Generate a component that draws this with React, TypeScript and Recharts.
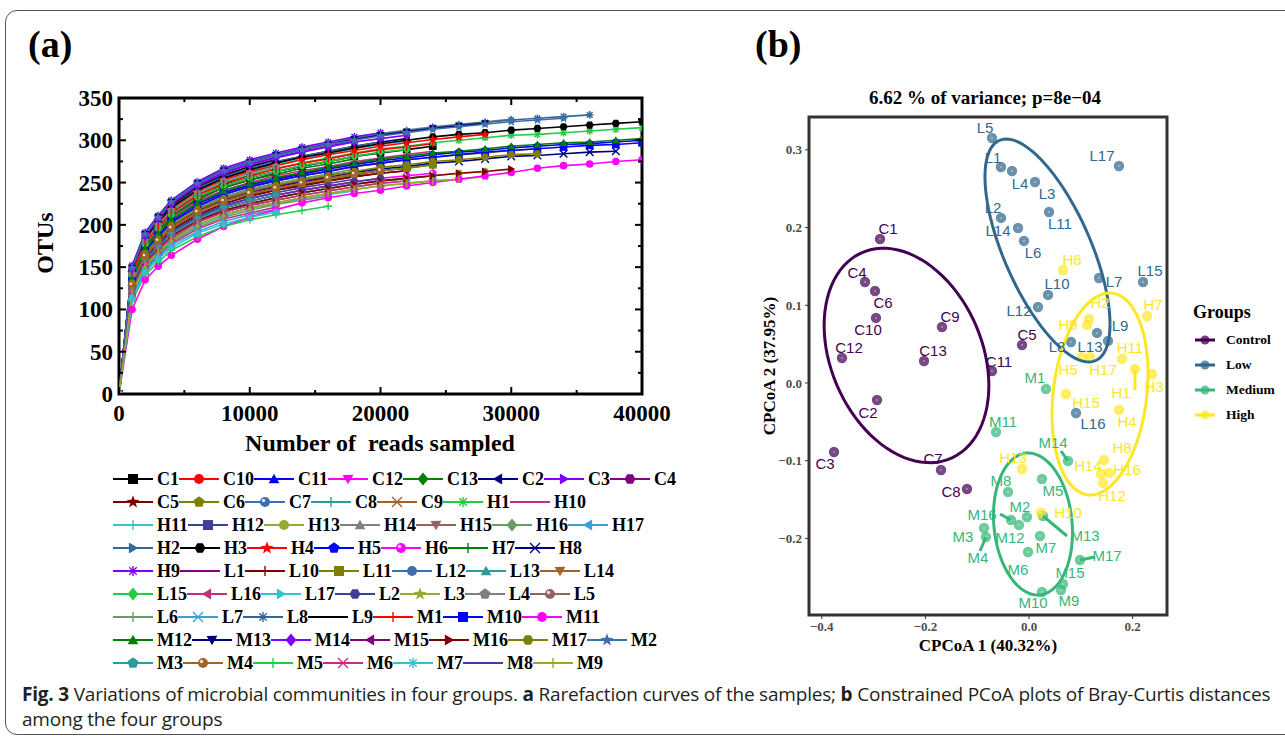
import React from 'react';
import { LineChart, Line, XAxis, YAxis, ReferenceArea, ScatterChart, Scatter } from 'recharts';

// ---------- panel (a): rarefaction curves ----------
const READS = [0, 1000, 2000, 3000, 4000, 6000, 8000, 10000, 12000, 14000, 16000, 18000, 20000, 22000, 24000, 26000, 28000, 30000, 32000, 34000, 36000, 38000, 40000];
const X_TICKS_A = [0, 5000, 10000, 15000, 20000, 25000, 30000, 35000, 40000];
const Y_TICKS_A = [0, 25, 50, 75, 100, 125, 150, 175, 200, 225, 250, 275, 300, 325, 350];

const otuC1 = [0, 139, 177, 196, 212, 232, 247, 256, 263, 269, 275, 281, 285, 289, 293];
const otuC10 = [0, 136, 171, 189, 206, 225, 238, 248, 255, 261, 267, 272, 276];
const otuC11 = [0, 131, 167, 185, 200, 220, 233, 242, 249];
const otuC12 = [0, 124, 158, 175, 189, 207, 220, 228, 235, 241, 246, 250];
const otuC13 = [0, 129, 164, 181, 196, 215, 228, 236, 243, 249, 255, 259, 264, 267, 271];
const otuC2 = [0, 146, 185, 204, 221, 242, 257, 267, 274, 281, 287, 293, 298, 302];
const otuC3 = [0, 148, 188, 208, 226, 247, 262, 272, 280, 287, 293, 299];
const otuC4 = [0, 138, 174, 193, 210, 230, 244, 253, 261];
const otuC5 = [0, 127, 162, 179, 194, 212, 225, 234, 241, 247, 252, 257, 261, 264];
const otuC6 = [0, 133, 169, 187, 203, 222, 236, 245, 252, 258, 264, 269, 273, 277, 280, 283, 285, 288, 290];
const otuC7 = [0, 126, 159, 176, 192, 210, 222, 231, 238];
const otuC8 = [0, 122, 156, 172, 187, 205, 217, 225, 232, 238, 243, 248, 252];
const otuC9 = [0, 130, 165, 183, 198, 217, 231, 239, 246, 252, 257];
const otuH1 = [0, 141, 179, 198, 215, 236, 250, 259, 267, 273, 279, 285, 290, 293, 297, 300, 303, 306, 307, 309, 311, 313, 315];
const otuH10 = [0, 136, 173, 191, 208, 228, 241, 250, 258, 264, 269, 275, 279, 283, 287];
const otuH11 = [0, 144, 183, 202, 219, 240, 254, 264, 271, 278, 284, 290, 295, 299];
const otuH12 = [0, 119, 152, 168, 183, 200, 212, 220, 226];
const otuH13 = [0, 123, 156, 172, 187, 205, 217, 225, 232, 238, 243, 248, 252, 255, 258, 261, 263];
const otuH14 = [0, 150, 191, 211, 229, 251, 266, 276, 284, 291, 297, 303, 308, 312, 316, 319, 322, 325];
const otuH15 = [0, 131, 166, 183, 198, 218, 230, 239, 246, 252, 258, 263, 267];
const otuH16 = [0, 132, 167, 185, 200, 220, 233, 242, 249, 255, 260, 266];
const otuH17 = [0, 135, 171, 189, 205, 225, 238, 248, 255];
const otuH2 = [0, 145, 184, 204, 221, 243, 257, 267, 275, 281, 287, 293, 298];
const otuH3 = [0, 145, 183, 202, 220, 241, 255, 265, 273, 280, 285, 291, 296, 300, 304, 307, 309, 312, 314, 316, 318, 320, 322];
const otuH4 = [0, 143, 181, 200, 218, 239, 253, 263, 270, 277, 283, 288, 293, 297, 301, 304, 307];
const otuH5 = [0, 135, 171, 189, 205, 225, 238, 247, 254, 260, 266, 271, 276, 279, 283, 286, 288, 291, 293, 295, 296, 298, 300];
const otuH6 = [0, 124, 158, 174, 189, 207, 220, 228, 235, 241, 246, 251, 255, 258, 261];
const otuH7 = [0, 138, 175, 193, 210, 230, 244, 253, 260, 267, 272, 278];
const otuH8 = [0, 130, 165, 182, 197, 216, 229, 238, 245, 251, 256, 262, 266, 269, 273, 275, 278, 281, 282, 284, 286, 287];
const otuH9 = [0, 152, 191, 211, 229, 251, 267, 277, 285, 292, 298, 304, 309];
const otuL1 = [0, 140, 177, 195, 212, 232, 246, 256, 263, 270, 275, 281];
const otuL10 = [0, 128, 161, 179, 194, 212, 225, 234, 241, 246, 252, 257, 261, 264];
const otuL11 = [0, 129, 163, 181, 196, 215, 228, 237, 243, 249, 254, 260, 264, 267, 271];
const otuL12 = [0, 126, 160, 176, 191, 210, 222, 231, 238];
const otuL13 = [0, 123, 156, 172, 187, 205, 217, 225, 232, 238, 243, 248, 252, 255, 258];
const otuL14 = [0, 121, 154, 170, 185, 203, 215, 223, 229, 235, 240, 245, 249];
const otuL15 = [0, 140, 177, 196, 212, 233, 246, 256, 263, 270, 275, 281, 286, 289];
const otuL16 = [0, 116, 148, 164, 178, 195, 207, 214, 221];
const otuL17 = [0, 118, 151, 167, 181, 199, 211, 219, 225, 231, 236, 240];
const otuL2 = [0, 125, 158, 174, 189, 208, 220, 228, 235, 241, 246, 251, 255];
const otuL3 = [0, 120, 152, 168, 182, 200, 212, 220, 226, 232, 237, 242, 246, 249, 252, 254, 257];
const otuL4 = [0, 142, 181, 200, 217, 238, 252, 261, 269];
const otuL5 = [0, 134, 169, 187, 203, 222, 236, 245, 252, 258, 263, 269, 273, 277];
const otuL6 = [0, 118, 150, 166, 180, 197, 209, 217, 224, 229, 234];
const otuL7 = [0, 115, 146, 162, 176, 192, 204, 212, 218];
const otuL8 = [0, 150, 190, 210, 228, 250, 265, 275, 283, 290, 296, 302, 307, 311, 315, 318, 321, 324, 326, 328, 330];
const otuL9 = [0, 147, 186, 206, 223, 245, 259, 269, 277];
const otuM1 = [0, 141, 179, 197, 214, 235, 249, 258, 266, 273, 278, 284, 289, 292, 296];
const otuM10 = [0, 133, 169, 187, 203, 222, 236, 245, 252, 258, 263, 269, 273, 277, 280, 283, 286, 288, 290, 292, 294, 295, 297];
const otuM11 = [0, 100, 135, 151, 164, 183, 198, 209, 218, 226, 232, 237, 241, 246, 250, 254, 258, 262, 267, 270, 272, 275, 277];
const otuM12 = [0, 136, 172, 190, 206, 226, 240, 249, 256, 262, 268, 273, 278, 281, 285, 287, 290, 293, 295, 297, 298, 300, 302];
const otuM13 = [0, 149, 189, 209, 227, 249, 264, 274, 282, 289, 295, 301, 306, 310, 314, 317, 320];
const otuM14 = [0, 148, 187, 207, 225, 246, 261, 271, 279, 286, 292, 298, 302, 306];
const otuM15 = [0, 131, 165, 183, 198, 217, 231, 239, 246, 252, 258, 263];
const otuM16 = [0, 123, 156, 172, 187, 205, 217, 225, 232, 238, 243, 248, 252, 255, 258, 261, 263, 266];
const otuM17 = [0, 131, 166, 183, 199, 218, 231, 240, 247, 253, 258, 263, 268, 271, 275, 277, 280, 283, 284];
const otuM2 = [0, 149, 189, 209, 227, 249, 264, 274, 282, 289, 295, 300, 305, 309, 313, 316, 319, 322, 324, 326];
const otuM3 = [0, 124, 158, 174, 189, 207, 220, 228, 235];
const otuM4 = [0, 129, 163, 181, 196, 215, 228, 237, 243, 249, 255, 260, 264];
const otuM5 = [0, 110, 141, 156, 170, 186, 198, 206, 212, 217, 222];
const otuM6 = [0, 121, 154, 170, 185, 203, 215, 223, 229, 235, 240, 245, 249, 252];
const otuM7 = [0, 113, 144, 160, 173, 190, 201, 209, 215];
const otuM8 = [0, 126, 160, 176, 192, 210, 223, 231, 238, 244, 249, 254];
const otuM9 = [0, 120, 152, 168, 182, 200, 212, 220, 226, 232, 237, 242, 246, 249, 252, 254];

// legend / plotting order
const SERIES: [string, number[]][] = [
  ['C1', otuC1], ['C10', otuC10], ['C11', otuC11], ['C12', otuC12], ['C13', otuC13], ['C2', otuC2], ['C3', otuC3], ['C4', otuC4],
  ['C5', otuC5], ['C6', otuC6], ['C7', otuC7], ['C8', otuC8], ['C9', otuC9], ['H1', otuH1], ['H10', otuH10],
  ['H11', otuH11], ['H12', otuH12], ['H13', otuH13], ['H14', otuH14], ['H15', otuH15], ['H16', otuH16], ['H17', otuH17],
  ['H2', otuH2], ['H3', otuH3], ['H4', otuH4], ['H5', otuH5], ['H6', otuH6], ['H7', otuH7], ['H8', otuH8],
  ['H9', otuH9], ['L1', otuL1], ['L10', otuL10], ['L11', otuL11], ['L12', otuL12], ['L13', otuL13], ['L14', otuL14],
  ['L15', otuL15], ['L16', otuL16], ['L17', otuL17], ['L2', otuL2], ['L3', otuL3], ['L4', otuL4], ['L5', otuL5],
  ['L6', otuL6], ['L7', otuL7], ['L8', otuL8], ['L9', otuL9], ['M1', otuM1], ['M10', otuM10], ['M11', otuM11],
  ['M12', otuM12], ['M13', otuM13], ['M14', otuM14], ['M15', otuM15], ['M16', otuM16], ['M17', otuM17], ['M2', otuM2],
  ['M3', otuM3], ['M4', otuM4], ['M5', otuM5], ['M6', otuM6], ['M7', otuM7], ['M8', otuM8], ['M9', otuM9],
];
const LEGEND_ROW_SIZES = [8, 7, 7, 7, 7, 7, 7, 7, 7];

// ---------- panel (b): CPCoA ----------
const CONTROL_POINTS = [
  { name: 'C1', x: -0.2876, y: 0.1853 }, { name: 'C4', x: -0.3166, y: 0.13 }, { name: 'C6', x: -0.2973, y: 0.1184 },
  { name: 'C10', x: -0.2954, y: 0.0837 }, { name: 'C9', x: -0.168, y: 0.0721 }, { name: 'C12', x: -0.361, y: 0.0322 },
  { name: 'C13', x: -0.2027, y: 0.0283 }, { name: 'C11', x: -0.0714, y: 0.0154 }, { name: 'C5', x: -0.0135, y: 0.0489 },
  { name: 'C2', x: -0.2934, y: -0.0219 }, { name: 'C3', x: -0.3764, y: -0.0888 }, { name: 'C7', x: -0.1699, y: -0.112 },
  { name: 'C8', x: -0.1197, y: -0.1364 },
];
const LOW_POINTS = [
  { name: 'L5', x: -0.0714, y: 0.3153 }, { name: 'L1', x: -0.0541, y: 0.278 }, { name: 'L4', x: -0.0328, y: 0.2728 },
  { name: 'L3', x: 0.0116, y: 0.2587 }, { name: 'L11', x: 0.0386, y: 0.2201 }, { name: 'L17', x: 0.1737, y: 0.2793 },
  { name: 'L2', x: -0.0541, y: 0.2124 }, { name: 'L14', x: -0.0212, y: 0.1995 }, { name: 'L6', x: -0.0097, y: 0.1828 },
  { name: 'L10', x: 0.0367, y: 0.1133 }, { name: 'L12', x: 0.0174, y: 0.0978 }, { name: 'L7', x: 0.1351, y: 0.1351 },
  { name: 'L15', x: 0.2201, y: 0.13 }, { name: 'L9', x: 0.1313, y: 0.0644 }, { name: 'L13', x: 0.1525, y: 0.0541 },
  { name: 'L8', x: 0.0811, y: 0.0528 }, { name: 'L16', x: 0.0907, y: -0.0386 },
];
const MEDIUM_POINTS = [
  { name: 'M1', x: 0.0328, y: -0.0077 }, { name: 'M11', x: -0.0637, y: -0.0631 }, { name: 'M14', x: 0.0753, y: -0.1004 },
  { name: 'M8', x: -0.0405, y: -0.1403 }, { name: 'M5', x: 0.0251, y: -0.1236 }, { name: 'M2', x: -0.0039, y: -0.1725 },
  { name: 'M13', x: 0.027, y: -0.1712 }, { name: 'M16', x: -0.0347, y: -0.1763 }, { name: 'M12', x: -0.0193, y: -0.1828 },
  { name: 'M3', x: -0.0869, y: -0.1866 }, { name: 'M4', x: -0.083, y: -0.1982 }, { name: 'M7', x: 0.0212, y: -0.1969 },
  { name: 'M6', x: -0.0019, y: -0.2175 }, { name: 'M17', x: 0.0985, y: -0.2278 }, { name: 'M15', x: 0.0656, y: -0.2587 },
  { name: 'M9', x: 0.0618, y: -0.2664 }, { name: 'M10', x: 0.0251, y: -0.269 },
];
const HIGH_POINTS = [
  { name: 'H6', x: 0.0656, y: 0.1454 }, { name: 'H2', x: 0.1158, y: 0.0824 }, { name: 'H9', x: 0.112, y: 0.0746 },
  { name: 'H7', x: 0.2278, y: 0.0862 }, { name: 'H11', x: 0.1795, y: 0.0309 }, { name: 'H5', x: 0.1023, y: 0.0335 },
  { name: 'H17', x: 0.1178, y: 0.0335 }, { name: 'H3', x: 0.2375, y: 0.0116 }, { name: 'H1', x: 0.2046, y: 0.018 },
  { name: 'H15', x: 0.0714, y: -0.0142 }, { name: 'H4', x: 0.1737, y: -0.0347 }, { name: 'H8', x: 0.1448, y: -0.0991 },
  { name: 'H14', x: 0.139, y: -0.1171 }, { name: 'H16', x: 0.1544, y: -0.1158 }, { name: 'H12', x: 0.1429, y: -0.1287 },
  { name: 'H13', x: -0.0135, y: -0.1107 }, { name: 'H10', x: 0.0232, y: -0.1673 },
];
// ellipse: centre, half extents and x/y correlation
const ELLIPSES = [
  { group: 'Control', cx: -0.2365, cy: 0.0354, wx: 0.159, hy: 0.138, rho: -0.28 },
  { group: 'Low', cx: 0.0357, cy: 0.1705, wx: 0.1207, hy: 0.1435, rho: -0.66 },
  { group: 'Medium', cx: 0.0077, cy: -0.1815, wx: 0.0763, hy: 0.0914, rho: -0.12 },
  { group: 'High', cx: 0.1371, cy: -0.0142, wx: 0.0927, hy: 0.13, rho: 0.2 },
];
const X_TICKS_B = [-0.4, -0.2, 0, 0.2];
const Y_TICKS_B = [-0.2, -0.1, 0, 0.1, 0.2, 0.3];

// label placement (pixels from the point) and repel segments
const LABEL_NUDGE: Record<string, [number, number]> = {
  C1: [8, -10], C4: [-8, -9], C6: [8, 12], C10: [-8, 12], C9: [8, -10], C12: [7, -10], C13: [9, -10], C11: [7, -10],
  C5: [5, -10], C2: [-9, 13], C3: [-9, 12], C7: [-8, -12], C8: [-16, 3],
  L5: [-7, -10], L1: [-8, -9], L4: [8, 12], L3: [12, 12], L11: [11, 12], L17: [-17, -10], L2: [-8, -10], L14: [-20, 3],
  L6: [9, 12], L10: [9, -11], L12: [-19, 4], L7: [15, 3], L15: [7, -11], L9: [23, -7], L13: [-18, 6], L8: [-14, 5], L16: [17, 11],
  M1: [-11, -11], M11: [7, -11], M14: [-15, -18], M8: [-7, -11], M5: [11, 11], M2: [-7, -11], M13: [42, 19], M16: [-29, -5],
  M12: [-9, 12], M3: [-21, 9], M4: [-8, 21], M7: [6, 12], M6: [-10, 18], M17: [27, -4], M15: [7, -11], M9: [8, 11], M10: [-9, 11],
  H6: [9, -10], H2: [11, -16], H9: [-19, -1], H7: [6, -11], H11: [8, -11], H5: [-14, 13], H17: [13, 13], H3: [2, 13],
  H1: [-14, 24], H15: [20, 8], H4: [8, 12], H8: [18, -12], H14: [-13, -8], H16: [18, -3], H12: [9, 13], H13: [-9, -11], H10: [27, 0],
};
const SEGMENTS: Record<string, [number, number]> = {
  M14: [-7, -10], M13: [24, 20], M16: [-11, -6], M4: [-6, 14], M17: [15, -3], H1: [0, 21],
};

const GROUP_COLORS: Record<string, string> = { Control: '#440154', Low: '#31688E', Medium: '#35B779', High: '#FDE725' };

// ---------- styling helpers ----------
const SERIF = '"Liberation Serif", "Times New Roman", serif';
const SANS = '"Liberation Sans", Arial, sans-serif';
const PALETTE = ['#000000', '#ff0000', '#0000ff', '#ff00ff', '#008000', '#000080', '#8000ff', '#800080', '#800000', '#808000',
  '#3d6fb0', '#2e9a9a', '#a0642a', '#22cc44', '#c0307f', '#33c3d0', '#3f3f9a', '#99aa33', '#808080', '#9a6060', '#6a9a6a',
  '#3aa0d8', '#336699'];
const seriesColor = (i: number) => PALETTE[i % PALETTE.length];
const seriesSymbol = (i: number) => i % 16;

const A = { left: 119, right: 642, top: 98, bottom: 394 };

const ring = (cx: number, cy: number, r: number, n: number, rot: number, inner?: number) => {
  const pts: string[] = [];
  const count = inner ? n * 2 : n;
  for (let i = 0; i < count; i++) {
    const rr = inner && i % 2 === 1 ? inner : r;
    const a = rot + (i * 2 * Math.PI) / count;
    pts.push(`${(cx + rr * Math.cos(a)).toFixed(2)},${(cy + rr * Math.sin(a)).toFixed(2)}`);
  }
  return pts.join(' ');
};

const Marker = ({ kind, cx, cy, color, s = 4 }: { kind: number; cx: number; cy: number; color: string; s?: number }) => {
  const sw = 1.4;
  switch (kind) {
    case 0: return <rect x={cx - s} y={cy - s} width={2 * s} height={2 * s} fill={color} />;
    case 1: return <circle cx={cx} cy={cy} r={s} fill={color} />;
    case 2: return <polygon points={ring(cx, cy + s * 0.2, s * 1.25, 3, -Math.PI / 2)} fill={color} />;
    case 3: return <polygon points={ring(cx, cy - s * 0.2, s * 1.25, 3, Math.PI / 2)} fill={color} />;
    case 4: return <polygon points={`${cx},${cy - s * 1.3} ${cx + s * 1.1},${cy} ${cx},${cy + s * 1.3} ${cx - s * 1.1},${cy}`} fill={color} />;
    case 5: return <polygon points={ring(cx + s * 0.2, cy, s * 1.25, 3, Math.PI)} fill={color} />;
    case 6: return <polygon points={ring(cx - s * 0.2, cy, s * 1.25, 3, 0)} fill={color} />;
    case 7: return <polygon points={ring(cx, cy, s * 1.1, 6, 0)} fill={color} />;
    case 8: return <polygon points={ring(cx, cy, s * 1.35, 5, -Math.PI / 2, s * 0.55)} fill={color} />;
    case 9: return <polygon points={ring(cx, cy, s * 1.15, 5, -Math.PI / 2)} fill={color} />;
    case 10:
      return (
        <g>
          <circle cx={cx} cy={cy} r={s} fill={color} />
          <circle cx={cx - s * 0.3} cy={cy - s * 0.3} r={s * 0.35} fill="#fff" fillOpacity={0.8} />
        </g>
      );
    case 11: return <path d={`M${cx - s},${cy}H${cx + s}M${cx},${cy - s}V${cy + s}`} stroke={color} strokeWidth={sw} />;
    case 12: return <path d={`M${cx - s},${cy - s}L${cx + s},${cy + s}M${cx - s},${cy + s}L${cx + s},${cy - s}`} stroke={color} strokeWidth={sw} />;
    case 13:
      return (
        <path
          d={`M${cx - s},${cy}H${cx + s}M${cx},${cy - s}V${cy + s}M${cx - s * 0.75},${cy - s * 0.75}L${cx + s * 0.75},${cy + s * 0.75}M${cx - s * 0.75},${cy + s * 0.75}L${cx + s * 0.75},${cy - s * 0.75}`}
          stroke={color}
          strokeWidth={sw}
        />
      );
    case 15: return <path d={`M${cx},${cy - s}V${cy + s}`} stroke={color} strokeWidth={sw} />;
    default: return <g />;
  }
};

const XTickA = (props: any) => {
  const { x, payload } = props;
  const major = payload.value % 10000 === 0;
  const len = major ? 7 : 4;
  return (
    <g>
      <line x1={x} y1={A.bottom} x2={x} y2={A.bottom - len} stroke="#000" strokeWidth={2} />
      <line x1={x} y1={A.top} x2={x} y2={A.top + len} stroke="#000" strokeWidth={2} />
      {major && (
        <text x={x} y={A.bottom + 27} textAnchor="middle" fontFamily={SERIF} fontWeight={700} fontSize={23} fill="#000">
          {payload.value}
        </text>
      )}
    </g>
  );
};

const YTickA = (props: any) => {
  const { y, payload } = props;
  const major = payload.value % 50 === 0;
  const len = major ? 7 : 4;
  return (
    <g>
      <line x1={A.left} y1={y} x2={A.left + len} y2={y} stroke="#000" strokeWidth={2} />
      <line x1={A.right} y1={y} x2={A.right - len} y2={y} stroke="#000" strokeWidth={2} />
      {major && (
        <text x={A.left - 6} y={y + 8} textAnchor="end" fontFamily={SERIF} fontWeight={700} fontSize={23} fill="#000">
          {payload.value}
        </text>
      )}
    </g>
  );
};

const fmtB = (v: number) => (v < 0 ? '\u2212' : '') + Math.abs(v).toFixed(1);

const ellipseOutline = (e: (typeof ELLIPSES)[number]) => {
  const out: { x: number; y: number }[] = [];
  const k = Math.sqrt(1 - e.rho * e.rho);
  for (let i = 0; i <= 90; i++) {
    const t = (i / 90) * 2 * Math.PI;
    out.push({ x: e.cx + e.wx * Math.cos(t), y: e.cy + e.hy * (e.rho * Math.cos(t) + k * Math.sin(t)) });
  }
  return out;
};

const GROUPS: [string, { name: string; x: number; y: number }[]][] = [
  ['Control', CONTROL_POINTS], ['Low', LOW_POINTS], ['Medium', MEDIUM_POINTS], ['High', HIGH_POINTS],
];

const pointShape = (color: string) => (p: any) => (
  <g>
    <circle cx={p.cx} cy={p.cy} r={5.2} fill={color} fillOpacity={0.72} />
    <circle cx={p.cx} cy={p.cy} r={0.8} fill="#fff" fillOpacity={0.7} />
  </g>
);

const labelShape = (color: string) => (p: any) => {
  const name = p.payload?.name as string;
  const [dx, dy] = LABEL_NUDGE[name] ?? [0, -11];
  const seg = SEGMENTS[name];
  return (
    <g>
      {seg && <line x1={p.cx} y1={p.cy} x2={p.cx + seg[0]} y2={p.cy + seg[1]} stroke={color} strokeWidth={3} />}
      <text x={p.cx + dx} y={p.cy + dy} textAnchor="middle" dominantBaseline="central" fill={color} fontSize={15} fontFamily={SANS}>
        {name}
      </text>
    </g>
  );
};

const rarefactionRows = READS.map((reads, i) => {
  const row: Record<string, number> = { reads };
  SERIES.forEach(([name, vals]) => {
    if (i < vals.length) row[name] = vals[i];
  });
  return row;
});

const legendRows = (() => {
  const rows: { name: string; idx: number }[][] = [];
  let k = 0;
  LEGEND_ROW_SIZES.forEach((n) => {
    rows.push(SERIES.slice(k, k + n).map(([name], j) => ({ name, idx: k + j })));
    k += n;
  });
  return rows;
})();

const abs = (style: React.CSSProperties): React.CSSProperties => ({ position: 'absolute', ...style });

export default function App() {
  return (
    <div style={{ position: 'absolute', left: 0, top: 0, width: 1285, height: 740, overflow: 'hidden', background: '#fff' }}>
      <div style={abs({ left: 5, top: 10, width: 1320, height: 723, border: '1.5px solid #555', borderRadius: 12 })} />

      {/* panel (a) */}
      <div style={abs({ left: 28, top: 24, fontFamily: SERIF, fontWeight: 700, fontSize: 38, lineHeight: '40px' })}>(a)</div>
      <div style={abs({ left: 0, top: 0 })}>
        <LineChart width={680} height={434} data={rarefactionRows} margin={{ top: A.top, right: 680 - A.right, left: 0, bottom: 0 }}>
          <XAxis type="number" dataKey="reads" domain={[0, 40000]} ticks={X_TICKS_A} interval={0} height={40}
            tick={<XTickA />} tickLine={false} axisLine={false} tickSize={0} allowDataOverflow />
          <YAxis type="number" domain={[0, 350]} ticks={Y_TICKS_A} interval={0} width={A.left}
            tick={<YTickA />} tickLine={false} axisLine={false} tickSize={0} allowDataOverflow />
          {SERIES.map(([name], i) => {
            const color = seriesColor(i);
            const kind = seriesSymbol(i);
            return (
              <Line
                key={name}
                dataKey={name}
                stroke={color}
                strokeWidth={1.6}
                isAnimationActive={false}
                activeDot={false}
                dot={(p: any) =>
                  p.cx == null || p.cy == null || p.value == null ? (
                    <g key={`${name}-${p.index}`} />
                  ) : (
                    <g key={`${name}-${p.index}`}>
                      <Marker kind={kind} cx={p.cx} cy={p.cy} color={color} s={3.8} />
                    </g>
                  )
                }
              />
            );
          })}
          <ReferenceArea x1={0} x2={40000} y1={0} y2={350} fill="none" stroke="#000" strokeWidth={3} ifOverflow="visible" />
        </LineChart>
      </div>
      <div style={abs({ left: 45, top: 243, fontFamily: SERIF, fontWeight: 700, fontSize: 24, transform: 'translate(-50%, -50%) rotate(-90deg)', whiteSpace: 'nowrap' })}>
        OTUs
      </div>
      <div style={abs({ left: 380, top: 443, fontFamily: SERIF, fontWeight: 700, fontSize: 24, transform: 'translate(-50%, -50%)', whiteSpace: 'pre' })}>
        Number of  reads sampled
      </div>
      <div style={abs({ left: 113, top: 467 })}>
        {legendRows.map((row, r) => (
          <div key={r} style={{ display: 'flex', alignItems: 'center', height: 23 }}>
            {row.map(({ name, idx }) => (
              <div key={name} style={{ display: 'flex', alignItems: 'center' }}>
                <svg width={40} height={16} style={{ display: 'block' }}>
                  <line x1={0} y1={8} x2={40} y2={8} stroke={seriesColor(idx)} strokeWidth={2.2} />
                  <Marker kind={seriesSymbol(idx)} cx={20} cy={8} color={seriesColor(idx)} s={5} />
                </svg>
                <span style={{ marginLeft: 4, fontFamily: SERIF, fontWeight: 700, fontSize: 18, lineHeight: '20px' }}>{name}</span>
              </div>
            ))}
          </div>
        ))}
      </div>

      {/* panel (b) */}
      <div style={abs({ left: 755, top: 24, fontFamily: SERIF, fontWeight: 700, fontSize: 38, lineHeight: '40px' })}>(b)</div>
      <div style={abs({ left: 985, top: 98, fontFamily: SERIF, fontWeight: 700, fontSize: 19, transform: 'translate(-50%, -50%)', whiteSpace: 'nowrap' })}>
        6.62 % of variance; p=8e−04
      </div>
      <div style={abs({ left: 740, top: 80 })}>
        <ScatterChart width={545} height={580} margin={{ top: 37, right: 118, left: 0, bottom: 0 }}>
          <XAxis type="number" dataKey="x" domain={[-0.4247, 0.2664]} ticks={X_TICKS_B} interval={0} height={45}
            tickFormatter={fmtB} tick={{ fill: '#4d4d4d', fontSize: 13, fontWeight: 700, fontFamily: SERIF }}
            tickLine={{ stroke: '#333' }} tickSize={4} tickMargin={3} axisLine={false} allowDataOverflow />
          <YAxis type="number" dataKey="y" domain={[-0.2986, 0.3423]} ticks={Y_TICKS_B} interval={0} width={69}
            tickFormatter={fmtB} tick={{ fill: '#4d4d4d', fontSize: 13, fontWeight: 700, fontFamily: SERIF }}
            tickLine={{ stroke: '#333' }} tickSize={4} tickMargin={3} axisLine={false} allowDataOverflow />
          {GROUPS.map(([g, pts]) => (
            <Scatter key={`pt-${g}`} data={pts} isAnimationActive={false} shape={pointShape(GROUP_COLORS[g])} />
          ))}
          {ELLIPSES.map((e) => (
            <Scatter key={`el-${e.group}`} data={ellipseOutline(e)} isAnimationActive={false} line={{ stroke: GROUP_COLORS[e.group], strokeWidth: 3 }}
              lineJointType="linear" shape={() => <g />} />
          ))}
          {GROUPS.map(([g, pts]) => (
            <Scatter key={`lb-${g}`} data={pts} isAnimationActive={false} shape={labelShape(GROUP_COLORS[g])} />
          ))}
          <ReferenceArea x1={-0.4247} x2={0.2664} y1={-0.2986} y2={0.3423} fill="none" stroke="#333" strokeWidth={3} ifOverflow="visible" />
        </ScatterChart>
      </div>
      <div style={abs({ left: 770, top: 366, fontFamily: SERIF, fontWeight: 700, fontSize: 17, transform: 'translate(-50%, -50%) rotate(-90deg)', whiteSpace: 'nowrap' })}>
        CPCoA 2 (37.95%)
      </div>
      <div style={abs({ left: 988, top: 646, fontFamily: SERIF, fontWeight: 700, fontSize: 17, transform: 'translate(-50%, -50%)', whiteSpace: 'nowrap' })}>
        CPCoA 1 (40.32%)
      </div>
      <div style={abs({ left: 1193, top: 300, fontFamily: SERIF, fontWeight: 700 })}>
        <div style={{ fontSize: 18, lineHeight: '24px' }}>Groups</div>
        {GROUPS.map(([g]) => (
          <div key={g} style={{ display: 'flex', alignItems: 'center', height: 25, marginTop: g === 'Control' ? 3 : 0 }}>
            <svg width={26} height={12} style={{ display: 'block' }}>
              <line x1={2} y1={6} x2={22} y2={6} stroke={GROUP_COLORS[g]} strokeWidth={3} />
              <circle cx={12} cy={6} r={4.5} fill={GROUP_COLORS[g]} fillOpacity={0.75} />
            </svg>
            <span style={{ marginLeft: 7, fontSize: 13.5 }}>{g}</span>
          </div>
        ))}
      </div>

      {/* caption */}
      <div style={abs({ left: 22, top: 682, fontFamily: '"Open Sans", "Noto Sans", sans-serif', fontSize: 19, letterSpacing: '-0.2px', color: '#231f20', lineHeight: '25px', whiteSpace: 'nowrap' })}>
        <div>
          <b>Fig. 3</b> Variations of microbial communities in four groups. <b>a</b> Rarefaction curves of the samples; <b>b</b> Constrained PCoA plots of Bray-Curtis distances
        </div>
        <div>among the four groups</div>
      </div>
    </div>
  );
}
